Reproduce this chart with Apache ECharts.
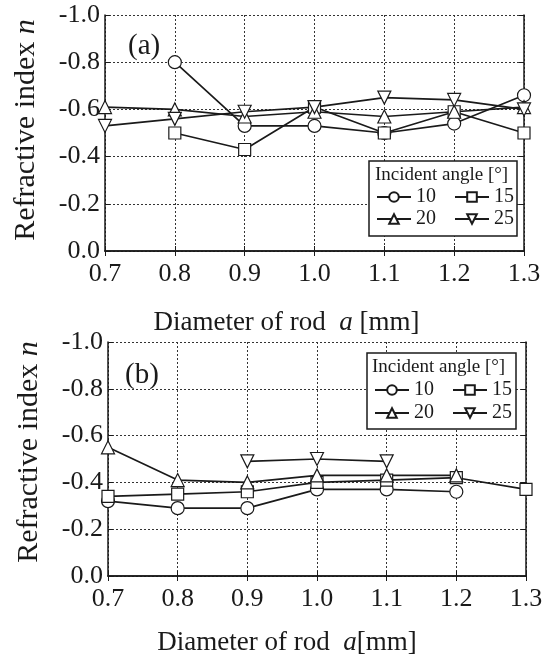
<!DOCTYPE html>
<html><head><meta charset="utf-8">
<script src="https://cdn.jsdelivr.net/npm/echarts@6/dist/echarts.min.js"></script>
<style>html,body{margin:0;padding:0;background:#fff}#c{width:547px;height:659px}</style>
</head><body><div id="c"></div>
<script>
// ---- data ----
const diameters = ['0.7','0.8','0.9','1.0','1.1','1.2','1.3'];
const angleNames = ['10','15','20','25'];
const yTicks = [-1.0,-0.8,-0.6,-0.4,-0.2,0.0];
// panel (a)
const a10 = [null,-0.80,-0.53,-0.53,-0.50,-0.54,-0.66];
const a15 = [null,-0.50,-0.43,-0.61,-0.50,-0.59,-0.50];
const a20 = [-0.61,-0.60,-0.57,-0.59,-0.57,-0.59,-0.61];
const a25 = [-0.53,-0.56,-0.59,-0.61,-0.65,-0.64,-0.60];
// panel (b)
const b10 = [-0.32,-0.29,-0.29,-0.37,-0.37,-0.36,null];
const b15 = [-0.34,-0.35,-0.36,-0.40,-0.41,-0.42,-0.37];
const b20 = [-0.55,-0.41,-0.40,-0.43,-0.43,-0.43,null];
const b25 = [null,null,-0.49,-0.50,-0.49,null,null];
const xNames = ['Diameter of rod  {i|a} [mm]', 'Diameter of rod  {i|a}[mm]'];

const FONT = '"Liberation Serif","DejaVu Serif",serif';
const INK = '#1a1a1a';
const symbols = ['circle','rect','triangle','path://M0,0L10,0L5,9Z'];
const sizes = [13,12,13,13];

const chart = echarts.init(document.getElementById('c'), null, {renderer:'canvas'});

const grids = [
  {left:105, top:15, right:23, height:236},
  {left:108, top:342, right:21, height:234}
];

function xAxes(gi, nameGap, padR) {
  return [{
    type:'category', gridIndex:gi, data:diameters, boundaryGap:false,
    position:'bottom',
    axisLine:{show:true, lineStyle:{color:INK, width:1.5}},
    axisTick:{show:true, inside:true, length:5, lineStyle:{color:INK, width:1}, alignWithLabel:true},
    axisLabel:{color:INK, fontFamily:FONT, fontSize:26, margin:10},
    splitLine:{show:true, lineStyle:{color:'#333', type:[2,2], width:1}},
    name:xNames[gi], nameLocation:'middle', nameGap:nameGap,
    nameTextStyle:{color:INK, fontFamily:FONT, fontSize:27, padding:[0,padR,0,0],
      rich:{i:{fontStyle:'italic', fontFamily:FONT, fontSize:27, color:INK}}}
  },{
    type:'category', gridIndex:gi, data:diameters, boundaryGap:false,
    position:'top',
    axisLine:{show:true, lineStyle:{color:INK, width:1.5}},
    axisTick:{show:true, inside:true, length:5, lineStyle:{color:INK, width:1}},
    axisLabel:{show:false}, splitLine:{show:false}
  }];
}
function yAxes(gi, shift) {
  return [{
    type:'value', gridIndex:gi, min:-1, max:0, interval:0.2, inverse:true,
    position:'left',
    axisLine:{show:true, lineStyle:{color:INK, width:1.5}},
    axisTick:{show:true, inside:true, length:5, lineStyle:{color:INK, width:1}},
    axisLabel:{color:INK, fontFamily:FONT, fontSize:26, margin:5, formatter:v=>(Math.abs(v)<1e-9?0:v).toFixed(1)},
    splitLine:{show:true, lineStyle:{color:'#333', type:[2,2], width:1}},
    name:'Refractive index {i|n}', nameLocation:'middle', nameGap:64, nameRotate:90,
    nameTextStyle:{color:INK, fontFamily:FONT, fontSize:30, padding:[0,0,0,shift],
      rich:{i:{fontStyle:'italic', fontFamily:FONT, fontSize:30, color:INK}}}
  },{
    type:'value', gridIndex:gi, min:-1, max:0, interval:0.2, inverse:true,
    position:'right',
    axisLine:{show:true, lineStyle:{color:INK, width:1.5}},
    axisTick:{show:true, inside:true, length:5, lineStyle:{color:INK, width:1}},
    axisLabel:{show:false}, splitLine:{show:false}
  }];
}

const panelData = [[a10,a15,a20,a25],[b10,b15,b20,b25]];
const series = [];
panelData.forEach((sets, gi) => {
  sets.forEach((d, k) => {
    series.push({
      type:'line', name:angleNames[k], xAxisIndex:gi*2, yAxisIndex:gi*2,
      data:d, connectNulls:false, symbol:symbols[k], symbolSize:sizes[k],
      showAllSymbol:true, animation:false,
      lineStyle:{color:INK, width:1.7},
      itemStyle:{color:'#fff', borderColor:INK, borderWidth:1.2}
    });
  });
});

// legend layout per panel: box, title, two rows
const legendBoxes = [
  {x:369, y:161, w:148, h:75, titleX:375, titleY:166, row1:197, row2:219, colX:376},
  {x:367, y:353, w:149, h:76, titleX:372, titleY:358, row1:390, row2:413, colX:374}
];
const legends = [];
const graphics = [];
const titles = [
  {text:'(a)', left:123, top:27, textStyle:{fontFamily:FONT, fontSize:29, fontWeight:'normal', color:INK}},
  {text:'(b)', left:120, top:356, textStyle:{fontFamily:FONT, fontSize:29, fontWeight:'normal', color:INK}}
];
legendBoxes.forEach(b => {
  graphics.push({type:'rect', shape:{x:b.x, y:b.y, width:b.w, height:b.h}, style:{fill:'#fff', stroke:INK, lineWidth:1.5}, z:100});
  graphics.push({type:'text', left:b.titleX, top:b.titleY, style:{text:'Incident angle [°]', font:'19px '+FONT, fill:INK}, z:101});
  [[angleNames[0],angleNames[1], b.row1],[angleNames[2],angleNames[3], b.row2]].forEach(r => {
    legends.push({
      data:[r[0], r[1]], left:b.colX, top:r[2]-10, orient:'horizontal',
      itemWidth:34, itemHeight:12, itemGap:18, padding:0, z:102,
      selectedMode:false,
      textStyle:{fontFamily:FONT, fontSize:20, color:INK, padding:[0,0,0,0]}
    });
  });
});

chart.setOption({
  backgroundColor:'#fff',
  animation:false,
  title:titles,
  grid:grids,
  xAxis:[...xAxes(0,58,56), ...xAxes(1,53,60)],
  yAxis:[...yAxes(0,6), ...yAxes(1,14)],
  legend:legends,
  graphic:graphics,
  series:series
});
</script></body></html>
